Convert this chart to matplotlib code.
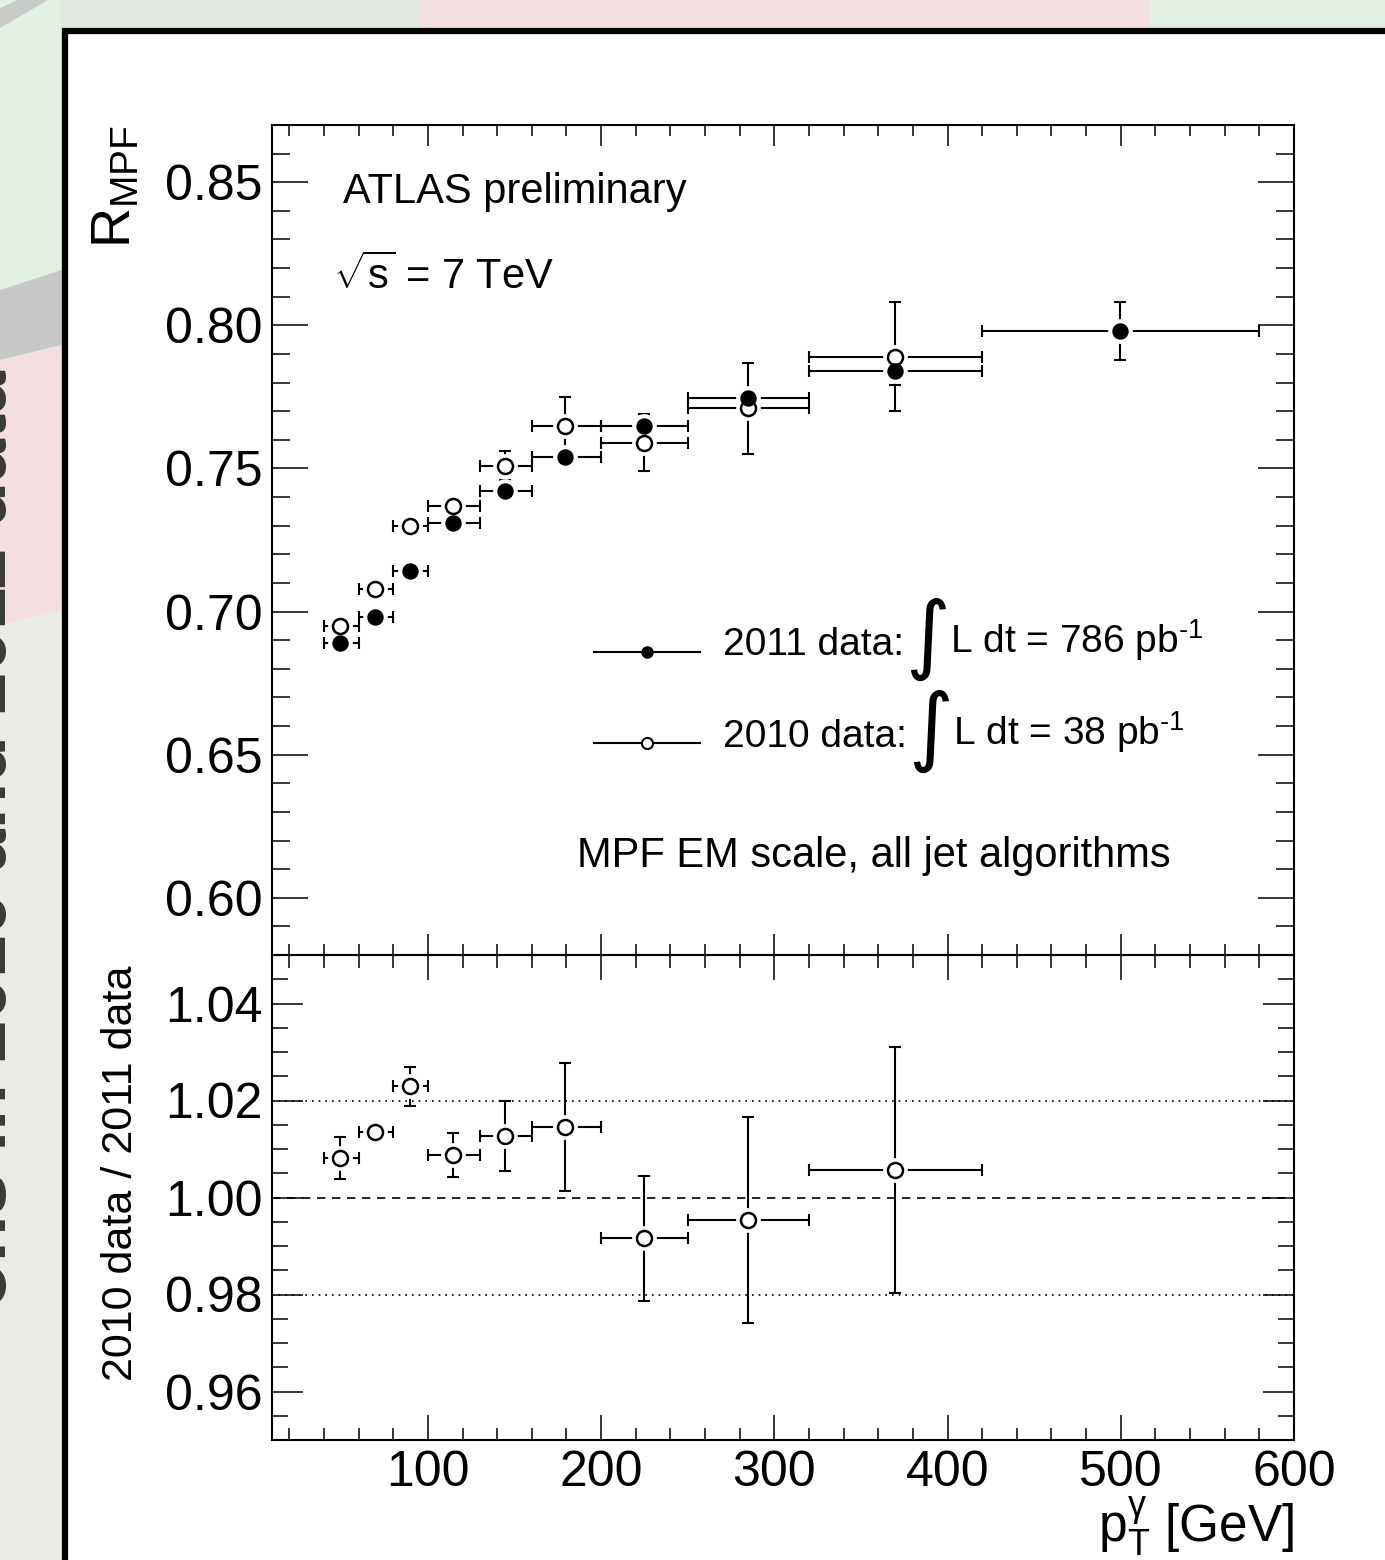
import matplotlib
matplotlib.use('Agg')
import matplotlib.pyplot as plt
import numpy as np
from matplotlib.lines import Line2D
from matplotlib.patches import Polygon
from matplotlib.legend_handler import HandlerLine2D
from matplotlib.ticker import MultipleLocator, FormatStrFormatter

plt.rcParams['font.family'] = ['Liberation Sans', 'DejaVu Sans']
plt.rcParams['mathtext.fontset'] = 'custom'
plt.rcParams['mathtext.rm'] = 'Liberation Sans'
plt.rcParams['mathtext.it'] = 'Liberation Sans:italic'
plt.rcParams['mathtext.bf'] = 'Liberation Sans:bold'

# ---------------- data ----------------
pt_mean = [49.5, 69.7, 89.8, 114.5, 144.5, 179.3, 224.8, 284.6, 369.6, 499.8]
bin_low = [40, 60, 80, 100, 130, 160, 200, 250, 320, 420]
bin_high = [60, 80, 100, 130, 160, 200, 250, 320, 420, 580]

rmpf_2011 = [0.689, 0.698, 0.714, 0.731, 0.742, 0.754, 0.765, 0.7745, 0.784, 0.798]
rmpf_2011_err = [0.002, 0.002, 0.002, 0.002, 0.002, 0.002, 0.002, 0.003, 0.005, 0.010]

rmpf_2010 = [0.695, 0.708, 0.730, 0.737, 0.751, 0.765, 0.759, 0.771, 0.789]
rmpf_2010_err = [0.002, 0.002, 0.002, 0.002, 0.005, 0.010, 0.010, 0.016, 0.019]

ratio = [1.0081, 1.0135, 1.0229, 1.0087, 1.0127, 1.0146, 0.9916, 0.9954, 1.0057]
ratio_err = [0.0043, 0.0015, 0.004, 0.0045, 0.0072, 0.0132, 0.0129, 0.0213, 0.0254]

x_ticks = [100, 200, 300, 400, 500, 600]
y_ticks_top = [0.60, 0.65, 0.70, 0.75, 0.80, 0.85]
y_ticks_bottom = [0.96, 0.98, 1.00, 1.02, 1.04]
ratio_bands = [0.98, 1.02]

# ---------------- figure ----------------
W, H = 1385, 1560
fig = plt.figure(figsize=(W / 100, H / 100), dpi=100)
fig.patch.set_facecolor('#e4efe4')


def P(x, y):
    return (x / W, 1 - y / H)


def poly(pts, color, z=0, **kw):
    fig.add_artist(Polygon([P(*p) for p in pts], closed=True, transform=fig.transFigure,
                           facecolor=color, edgecolor='none', zorder=z, **kw))


# background decoration
poly([(0, 8), (18, 0), (48, 0), (0, 28)], '#c9cbc9')
poly([(60, 0), (420, 0), (420, 28), (60, 28)], '#e2e7e2')
poly([(420, 0), (1150, 0), (1150, 28), (420, 28)], '#f3e0e0')
poly([(0, 290), (62, 270), (62, 345), (0, 360)], '#c8c8c8')
poly([(0, 360), (62, 345), (62, 610), (0, 625)], '#f4dfe0')
poly([(0, 625), (62, 610), (62, 1560), (0, 1560)], '#e8ece4')

fig.text(6 / W, 1 - 1308 / H, 'ons in 2010 and 2011 data', rotation=90,
         rotation_mode='anchor', ha='left', va='baseline', fontsize=55,
         fontweight='bold', color='#3a3a3a')

# white slide box with black border
fig.add_artist(Polygon([P(65, 31), P(1420, 31), P(1420, 1620), P(65, 1620)], closed=True,
                       transform=fig.transFigure, facecolor='white', edgecolor='black',
                       linewidth=4.5, zorder=1))

L, R, T, M, B = 272, 1294, 125, 955, 1440
ax1 = fig.add_axes([L / W, 1 - M / H, (R - L) / W, (M - T) / H])
ax2 = fig.add_axes([L / W, 1 - B / H, (R - L) / W, (B - M) / H], sharex=ax1)
for ax in (ax1, ax2):
    ax.set_zorder(2)
    ax.patch.set_alpha(0)
    for s in ax.spines.values():
        s.set_linewidth(1.5)

MS = 10.8


def draw(ax, x, y, yerr, lo, hi):
    x = np.asarray(x, float)
    y = np.asarray(y, float)
    xerr = [x - np.asarray(lo), np.asarray(hi) - x]
    ax.errorbar(x, y, yerr=yerr, xerr=xerr, fmt='none', ecolor='black',
                elinewidth=1.5, capsize=4.5, capthick=1.5, zorder=2)
    return x, y


# upper panel
n10 = len(rmpf_2010)
x11, y11 = draw(ax1, pt_mean, rmpf_2011, rmpf_2011_err, bin_low, bin_high)
x10, y10 = draw(ax1, pt_mean[:n10], rmpf_2010, rmpf_2010_err, bin_low[:n10], bin_high[:n10])
for xx, yy in ((x11, y11), (x10, y10)):
    ax1.plot(xx, yy, ls='none', marker='o', ms=MS + 7, mfc='white', mec='none', zorder=3)
ax1.plot(x10, y10, ls='none', marker='o', ms=MS, mfc='white', mec='black', mew=1.8, zorder=4)
ax1.plot(x11, y11, ls='none', marker='o', ms=MS, mfc='black', mec='black', mew=1.0, zorder=5)

ax1.set_xlim(10, 600)
ax1.set_ylim(0.58, 0.87)
ax1.set_yticks(y_ticks_top)
ax1.yaxis.set_minor_locator(MultipleLocator(0.01))
ax1.yaxis.set_major_formatter(FormatStrFormatter('%.2f'))
ax1.set_xticks(x_ticks)
ax1.xaxis.set_minor_locator(MultipleLocator(20))
ax1.tick_params(axis='both', which='both', direction='in', top=True, right=True,
                labelbottom=False, width=1.1, labelsize=36, pad=7)
ax1.tick_params(axis='y', which='major', length=26)
ax1.tick_params(axis='y', which='minor', length=13)
ax1.tick_params(axis='x', which='major', length=15)
ax1.tick_params(axis='x', which='minor', length=8)

ax1.set_ylabel(r'R$_{\mathrm{MPF}}$', fontsize=40, loc='top')
ax1.yaxis.set_label_coords(-0.127, 1.0)

ax1.text(0.0695, 0.919, 'ATLAS preliminary', transform=ax1.transAxes, fontsize=30,
         ha='left', va='center')
ax1.text(0.06, 0.818, r'$\sqrt{\mathrm{s}}$ = 7 TeV', transform=ax1.transAxes, fontsize=30,
         ha='left', va='center')
ax1.text(0.2984, 0.119, 'MPF EM scale, all jet algorithms', transform=ax1.transAxes,
         fontsize=30, ha='left', va='center')


class ShiftedLineHandler(HandlerLine2D):
    """Legend line drawn slightly below the text centre, as in the ROOT legend."""

    def __init__(self, shift=0.0, **kw):
        super().__init__(**kw)
        self.shift = shift

    def create_artists(self, legend, orig_handle, xdescent, ydescent, width, height,
                       fontsize, trans):
        arts = super().create_artists(legend, orig_handle, xdescent, ydescent, width,
                                      height, fontsize, trans)
        for a in arts:
            a.set_ydata(np.asarray(a.get_ydata(), float) - self.shift * fontsize)
        return arts


h11 = Line2D([0], [0], color='black', lw=1.5, marker='o', ms=8, mfc='black', mec='black')
h10 = Line2D([0], [0], color='black', lw=1.5, marker='o', ms=8, mfc='white', mec='black', mew=1.5)
LEGFS = 28
leg = ax1.legend([h11, h10], ['2011 data:', '2010 data:'], loc='center left',
                 bbox_to_anchor=(0.315, 0.318), bbox_transform=ax1.transAxes,
                 frameon=False, fontsize=LEGFS, handlelength=2.72, handletextpad=0.6,
                 labelspacing=1.43, borderpad=0, borderaxespad=0, numpoints=1,
                 handler_map={h11: ShiftedLineHandler(shift=0.26),
                              h10: ShiftedLineHandler(shift=0.26)})
lumis = ['786', '38']
for t, lum in zip(leg.get_texts(), lumis):
    a1 = ax1.annotate('\u222b', xy=(1, 0.5), xycoords=t, xytext=(1, 4),
                      textcoords='offset points', ha='left', va='center', fontsize=62,
                      zorder=6, family=['DejaVu Sans'])
    ax1.annotate('L dt = %s pb$^{\\mathrm{\u2010}1}$' % lum, xy=(1, 0), xycoords=(a1, t),
                 xytext=(0, 0), textcoords='offset points', ha='left', va='bottom',
                 fontsize=LEGFS, zorder=6)

# lower panel
n = len(ratio)
xr, yr = draw(ax2, pt_mean[:n], ratio, ratio_err, bin_low[:n], bin_high[:n])
ax2.plot(xr, yr, ls='none', marker='o', ms=MS + 7, mfc='white', mec='none', zorder=3)
ax2.plot(xr, yr, ls='none', marker='o', ms=MS, mfc='white', mec='black', mew=1.8, zorder=4)
ax2.axhline(1.0, color='black', lw=1.2, ls=(0, (5, 4)), zorder=1)
for b in ratio_bands:
    ax2.axhline(b, color='black', lw=1.2, ls=(0, (1, 3)), zorder=1)

ax2.set_ylim(0.95, 1.05)
ax2.set_yticks(y_ticks_bottom)
ax2.yaxis.set_minor_locator(MultipleLocator(0.005))
ax2.yaxis.set_major_formatter(FormatStrFormatter('%.2f'))
ax2.set_xticks(x_ticks)
ax2.xaxis.set_minor_locator(MultipleLocator(20))
ax2.tick_params(axis='both', which='both', direction='in', top=True, right=True,
                width=1.1, labelsize=36, pad=7)
ax2.tick_params(axis='y', which='major', length=22)
ax2.tick_params(axis='y', which='minor', length=11.5)
ax2.tick_params(axis='x', which='major', length=18)
ax2.tick_params(axis='x', which='minor', length=9)
ax2.set_xlim(10, 600)

ax2.set_ylabel('2010 data / 2011 data', fontsize=31, loc='top')
ax2.yaxis.set_label_coords(-0.128, 0.979)
ax2.set_xlabel(r'p$_{\mathrm{T}}^{\mathrm{\gamma}}$ [GeV]', fontsize=37, loc='right')
ax2.xaxis.set_label_coords(1.0, -0.112)

fig.savefig('out.png', dpi=100, facecolor=fig.get_facecolor())
